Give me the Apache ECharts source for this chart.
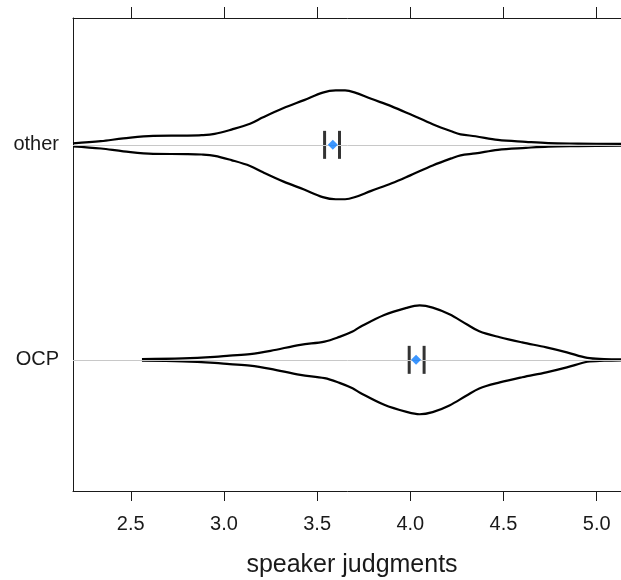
<!DOCTYPE html>
<html>
<head>
<meta charset="utf-8">
<script src="https://cdn.jsdelivr.net/npm/echarts@6/dist/echarts.min.js"></script>
<style>
  html, body { margin: 0; padding: 0; background: #fff; }
  #chart { width: 621px; height: 580px; }
</style>
</head>
<body>
<div id="chart"></div>
<script>
// groups, bottom to top
const categories = ['OCP', 'other']
const xTicks = [2.5, 3.0, 3.5, 4.0, 4.5, 5.0]

// violin outlines: x positions and half-widths (in category units)
const ocpX = [2.56, 2.78, 2.95, 3.03, 3.14, 3.25, 3.41, 3.54, 3.62, 3.69, 3.73, 3.86, 3.98, 4.05, 4.12, 4.21, 4.30, 4.37, 4.48, 4.60, 4.73, 4.84, 4.95, 5.04, 5.15]
const ocpHalf = [0.004, 0.007, 0.014, 0.020, 0.027, 0.042, 0.070, 0.085, 0.107, 0.132, 0.153, 0.209, 0.242, 0.253, 0.243, 0.212, 0.167, 0.133, 0.105, 0.081, 0.058, 0.035, 0.009, 0.004, 0.002]
const otherX = [2.19, 2.34, 2.46, 2.62, 2.80, 2.88, 2.95, 3.04, 3.14, 3.21, 3.32, 3.43, 3.53, 3.60, 3.65, 3.70, 3.79, 3.90, 4.00, 4.12, 4.22, 4.27, 4.35, 4.47, 4.62, 4.74, 4.90, 5.15]
const otherHalf = [0.007, 0.017, 0.030, 0.042, 0.043, 0.045, 0.051, 0.071, 0.098, 0.128, 0.171, 0.208, 0.243, 0.253, 0.253, 0.244, 0.214, 0.179, 0.142, 0.096, 0.063, 0.049, 0.040, 0.023, 0.014, 0.008, 0.006, 0.004]

// mean and interval ends, same order as categories
const means = [4.031, 3.584]
const lowers = [3.994, 3.540]
const uppers = [4.074, 3.620]

const font = "'Liberation Sans', Arial, sans-serif"
const ink = '#1a1a1a'

const chart = echarts.init(document.getElementById('chart'))

const outline = (xs, hw, center, sign) => xs.map((x, i) => [x, center + sign * hw[i]])

const violins = [[ocpX, ocpHalf], [otherX, otherHalf]]
const violinSeries = []
violins.forEach(([xs, hw], i) => {
  const c = i + 1
  ;[1, -1].forEach(sign => {
    violinSeries.push({
      type: 'line',
      data: outline(xs, hw, c, sign),
      smooth: 0.35,
      showSymbol: false,
      lineStyle: { color: '#000', width: 2.2 },
      z: 3
    })
  })
})

// box drawn with axis lines so the right edge stays open
const boxLine = { show: true, lineStyle: { color: ink, width: 1 } }

const option = {
  animation: false,
  backgroundColor: '#fff',
  grid: { left: 73, top: 18, width: 552, height: 473, outerBoundsMode: 'none' },
  xAxis: [{
    type: 'value',
    position: 'bottom',
    min: 2.19,
    max: 5.152,
    axisLine: boxLine,
    splitLine: { show: false },
    axisTick: { customValues: xTicks, length: 10, lineStyle: { color: ink } },
    axisLabel: {
      customValues: xTicks,
      formatter: v => v.toFixed(1),
      fontSize: 20, fontFamily: font, color: ink, margin: 23
    },
    name: 'speaker judgments',
    nameLocation: 'middle',
    nameGap: 62,
    nameTextStyle: { fontSize: 25, fontFamily: font, color: ink, padding: [0, 0, 0, 6] }
  }, {
    type: 'value',
    position: 'top',
    min: 2.19,
    max: 5.152,
    axisLine: boxLine,
    splitLine: { show: false },
    axisTick: { customValues: xTicks, length: 11, lineStyle: { color: ink } },
    axisLabel: { show: false }
  }],
  yAxis: {
    type: 'value',
    min: 0.39,
    max: 2.59,
    axisLine: boxLine,
    axisTick: { show: false },
    splitLine: { show: false },
    axisLabel: {
      customValues: [1, 2],
      formatter: v => categories[Math.round(v) - 1],
      fontSize: 20, fontFamily: font, color: ink, margin: 14
    }
  },
  series: [
    {
      type: 'scatter',
      data: [],
      z: 1,
      markLine: {
        silent: true,
        symbol: ['none', 'none'],
        label: { show: false },
        lineStyle: { color: '#c8c8c8', width: 1, type: 'solid' },
        data: categories.map((c, i) => ({ yAxis: i + 1 }))
      }
    },
    ...violinSeries,
    {
      type: 'scatter',
      symbol: 'rect',
      symbolSize: [3, 28],
      itemStyle: { color: '#000' },
      data: lowers.map((v, i) => [v, i + 1]).concat(uppers.map((v, i) => [v, i + 1])),
      z: 4
    },
    {
      type: 'scatter',
      symbol: 'diamond',
      symbolSize: [10, 10],
      itemStyle: { color: '#0a7cff' },
      data: means.map((v, i) => [v, i + 1]),
      z: 5
    }
  ]
}

chart.setOption(option)
</script>
</body>
</html>
